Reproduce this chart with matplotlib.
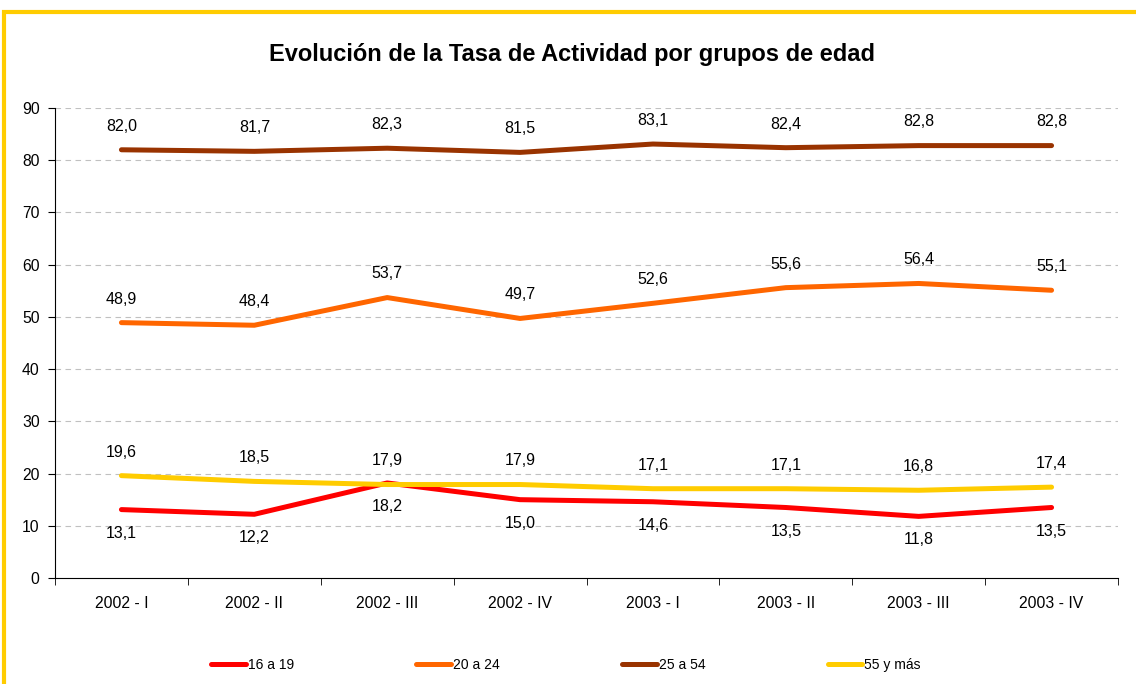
import matplotlib
matplotlib.use("Agg")
import matplotlib.pyplot as plt
from matplotlib.patches import Rectangle
import numpy as np

plt.rcParams['font.family'] = ['Liberation Sans', 'DejaVu Sans']

categories = ["2002 - I", "2002 - II", "2002 - III", "2002 - IV",
              "2003 - I", "2003 - II", "2003 - III", "2003 - IV"]
s16_19 = [13.1, 12.2, 18.2, 15.0, 14.6, 13.5, 11.8, 13.5]
s20_24 = [48.9, 48.4, 53.7, 49.7, 52.6, 55.6, 56.4, 55.1]
s25_54 = [82.0, 81.7, 82.3, 81.5, 83.1, 82.4, 82.8, 82.8]
s55 = [19.6, 18.5, 17.9, 17.9, 17.1, 17.1, 16.8, 17.4]
series_names = ["16 a 19", "20 a 24", "25 a 54", "55 y más"]
colors = ["#FF0000", "#FF6600", "#993300", "#FFCC00"]
yticks = [0, 10, 20, 30, 40, 50, 60, 70, 80, 90]

W, H = 1136, 684
fig = plt.figure(figsize=(W / 100, H / 100), dpi=100)

# yellow border (top and left visible)
fig.add_artist(Rectangle((4 / W, -0.1), 1.2, (H - 12) / H + 0.1,
                         transform=fig.transFigure, fill=False,
                         edgecolor="#FFCC00", linewidth=3))

ax = fig.add_axes([55 / W, (H - 578) / H, 1063 / W, 470 / H])
x = np.arange(len(categories))
series = [s16_19, s20_24, s25_54, s55]
offsets = [-17, 17, 17, 17]
order = [2, 1, 3, 0]
for i in order:
    ax.plot(x, series[i], color=colors[i], linewidth=3.6, label=series_names[i],
            solid_capstyle="round", zorder=3 + i)
for i in range(4):
    for xi, v in zip(x, series[i]):
        ax.annotate(f"{v:.1f}".replace(".", ","), (xi, v),
                    xytext=(0, offsets[i]), textcoords="offset points",
                    ha="center", va="center", fontsize=11.5)

ax.set_xlim(-0.5, len(categories) - 0.5)
ax.set_ylim(0, 90)
ax.set_yticks(yticks)
ax.set_yticklabels([str(t) for t in yticks], fontsize=11.3)
ax.set_xticks(x)
ax.set_xticklabels(categories, fontsize=11.3)
ax.set_xticks(np.arange(-0.5, len(categories) + 0.5, 1), minor=True)
ax.tick_params(axis="x", which="major", length=0, pad=13)
ax.tick_params(axis="x", which="minor", length=5, direction="out")
ax.tick_params(axis="y", length=5, direction="out", pad=6)
for g in yticks[1:]:
    ax.axhline(g, color="#C0C0C0", linestyle=(0, (5, 4)), linewidth=0.8, zorder=1)
ax.spines["top"].set_visible(False)
ax.spines["right"].set_visible(False)

fig.text(572 / W, 1 - 54 / H, "Evolución de la Tasa de Actividad por grupos de edad",
         ha="center", va="center", fontsize=17, fontweight="bold")

handles, labels = ax.get_legend_handles_labels()
hmap = dict(zip(labels, handles))
fig.legend([hmap[n] for n in series_names], series_names, ncol=4,
           loc="center", bbox_to_anchor=(566 / W, 1 - 665 / H),
           frameon=False, fontsize=10, handlelength=2.5, handletextpad=0.15,
           columnspacing=8.8)

fig.savefig("out.png", dpi=100)
